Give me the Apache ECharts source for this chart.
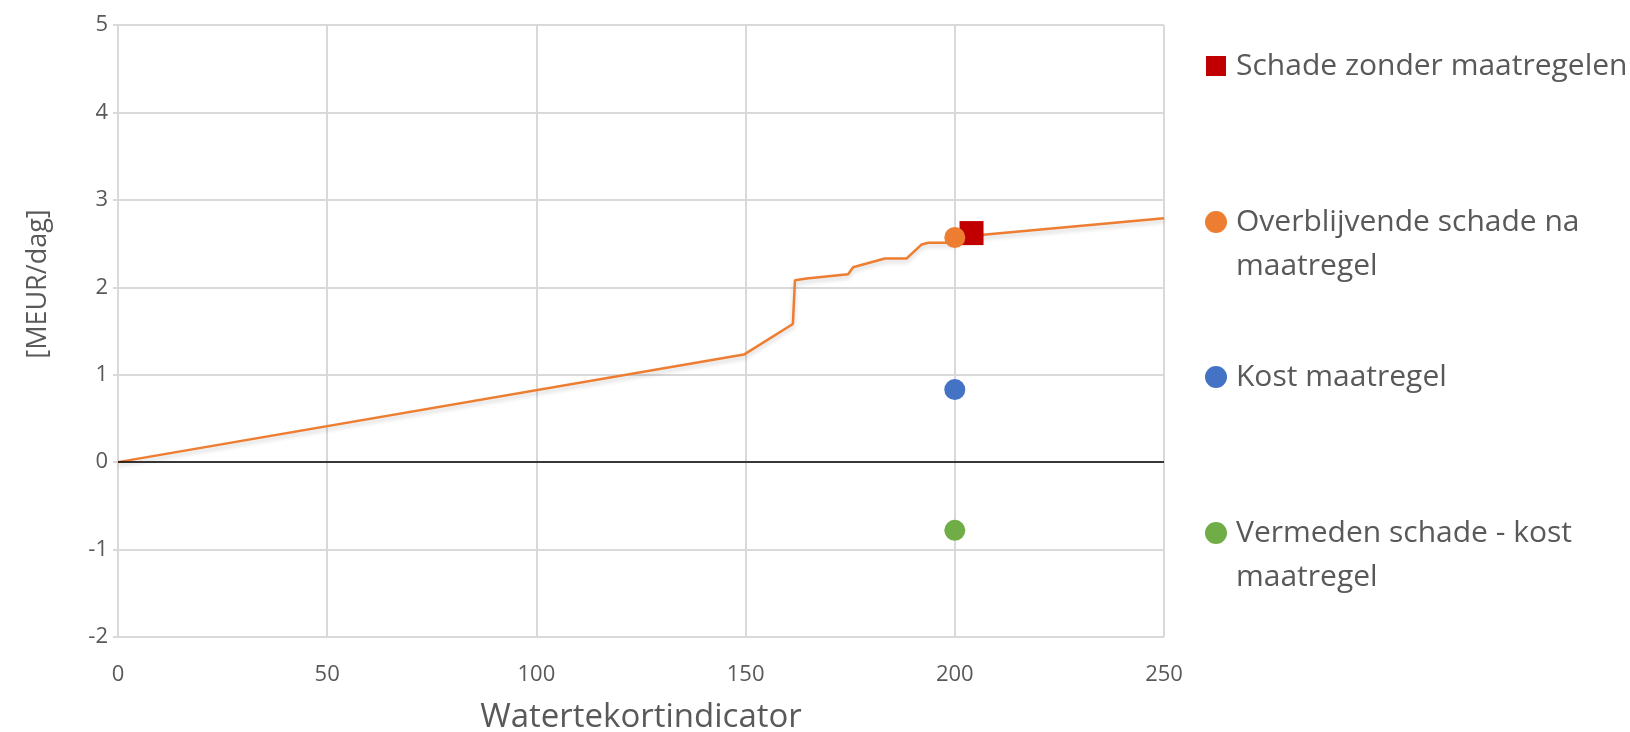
<!DOCTYPE html>
<html>
<head>
<meta charset="utf-8">
<script src="https://cdn.jsdelivr.net/npm/echarts@6/dist/echarts.min.js"></script>
<style>
  html, body { margin: 0; padding: 0; background: #ffffff; }
  #chart { width: 1630px; height: 732px; }
</style>
</head>
<body>
<div id="chart"></div>
<script>
// Damage curve: water shortage indicator vs. damage per day
const curveX = [0, 149.6, 161.3, 161.8, 164.6, 165.0, 174.5, 175.7, 183.3, 188.5, 192.1, 193.7, 199.6, 206.8, 250];
const curveY = [0, 1.23, 1.58, 2.08, 2.10, 2.12, 2.15, 2.23, 2.33, 2.33, 2.49, 2.51, 2.51, 2.60, 2.79];

// Single-point series
const seriesNames = [
  'Schade zonder maatregelen',
  'Overblijvende schade na maatregel',
  'Kost maatregel',
  'Vermeden schade - kost maatregel'
];
const pointX = [204, 200, 200, 200];
const pointY = [2.62, 2.57, 0.83, -0.78];

const xTicks = { min: 0, max: 250, step: 50 };
const yTicks = { min: -2, max: 5, step: 1 };

const colors = ['#C00000', '#ED7D31', '#4472C4', '#70AD47'];
const symbols = ['rect', 'circle', 'circle', 'circle'];
const symbolSizes = [24, 21, 21, 21];

const FONT = 'Open Sans';
const TXT = '#595959';
const GRID = '#d9d9d9';

const chart = echarts.init(document.getElementById('chart'));

const curveData = curveX.map((x, i) => [x, curveY[i]]);

const scatterSeries = seriesNames.map((name, i) => ({
  name: name,
  type: 'scatter',
  symbol: symbols[i],
  symbolSize: symbolSizes[i],
  itemStyle: { color: colors[i], opacity: 1 },
  data: [[pointX[i], pointY[i]]],
  z: 3 + i
}));

// Legend entries. Wrapped labels get a leading empty line so that the
// marker (centred on the text block) sits beside the first written line.
const legendLayout = [
  { label: 'Schade zonder maatregelen', top: 44, size: 20 },
  { label: '\nOverblijvende schade na\nmaatregel', top: 156, size: 22 },
  { label: 'Kost maatregel', top: 355, size: 22 },
  { label: '\nVermeden schade - kost\nmaatregel', top: 467, size: 22 }
];

const legends = seriesNames.map((name, i) => ({
  data: [{ name: name, icon: symbols[i] }],
  orient: 'vertical',
  left: 1216 - legendLayout[i].size / 2,
  top: legendLayout[i].top,
  itemWidth: legendLayout[i].size,
  itemHeight: legendLayout[i].size,
  itemGap: 0,
  padding: 0,
  selectedMode: false,
  formatter: () => legendLayout[i].label,
  textStyle: {
    fontFamily: FONT,
    fontSize: 30,
    color: TXT,
    lineHeight: 44,
    padding: [0, 0, 0, legendLayout[i].size === 20 ? 5 : 4]
  }
}));

chart.setOption({
  animation: false,
  backgroundColor: '#ffffff',
  grid: {
    left: 118, right: 466, top: 25, bottom: 95,
    containLabel: false,
    outerBoundsMode: 'none'
  },
  legend: legends,
  xAxis: {
    type: 'value',
    min: xTicks.min,
    max: xTicks.max,
    interval: xTicks.step,
    name: 'Watertekortindicator',
    nameLocation: 'middle',
    nameGap: 64,
    nameTextStyle: { fontFamily: FONT, fontSize: 33, color: TXT },
    axisLine: { show: false },
    axisTick: { show: false },
    axisLabel: { fontFamily: FONT, fontSize: 22, color: TXT, margin: 27 },
    splitLine: { show: true, lineStyle: { color: GRID, width: 2 } }
  },
  yAxis: {
    type: 'value',
    min: yTicks.min,
    max: yTicks.max,
    interval: yTicks.step,
    name: '[MEUR/dag]',
    nameLocation: 'middle',
    nameGap: 66,
    nameTextStyle: { fontFamily: FONT, fontSize: 27, color: TXT, padding: [0, 0, 0, 94] },
    axisLine: { show: false },
    axisTick: { show: true, length: 5, lineStyle: { color: GRID, width: 2 } },
    axisLabel: { fontFamily: FONT, fontSize: 22, color: TXT, margin: 10 },
    splitLine: { show: true, lineStyle: { color: GRID, width: 2 } }
  },
  series: [
    {
      name: 'curve',
      type: 'line',
      data: curveData,
      showSymbol: false,
      symbol: 'none',
      lineStyle: {
        color: '#ED7D31',
        width: 2.5,
        shadowColor: 'rgba(0,0,0,0.18)',
        shadowBlur: 4,
        shadowOffsetY: 3
      },
      z: 2,
      markLine: {
        silent: true,
        symbol: 'none',
        label: { show: false },
        lineStyle: { color: '#000000', width: 1.5, type: 'solid', shadowBlur: 0 },
        data: [{ yAxis: 0 }]
      }
    }
  ].concat(scatterSeries)
});
</script>
</body>
</html>
